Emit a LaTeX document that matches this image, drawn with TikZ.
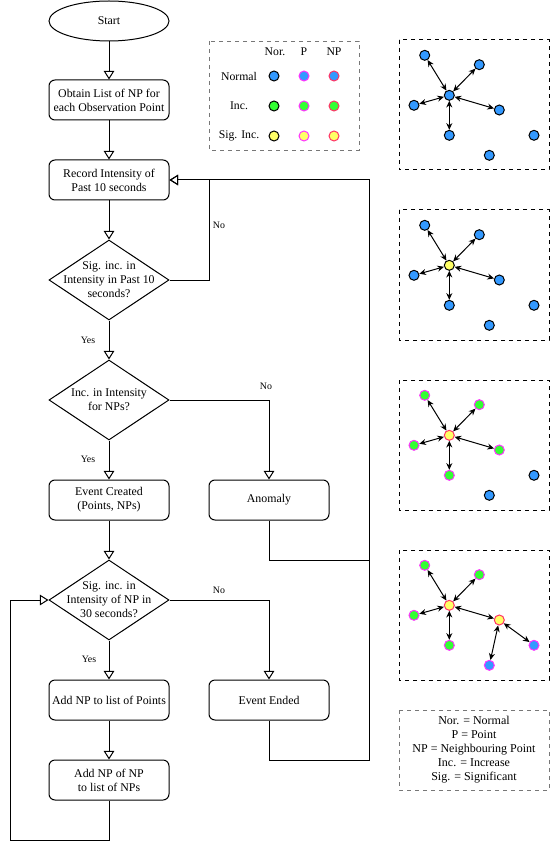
\documentclass[tikz,border=0pt]{standalone}
\usepackage{fontspec}
\setmainfont{Liberation Serif}
\usetikzlibrary{shapes.geometric,arrows.meta}
\definecolor{cblue}{HTML}{3399FF}
\definecolor{cgreen}{HTML}{33FF33}
\definecolor{cyellow}{HTML}{FFFF66}
\definecolor{cmag}{HTML}{FF33FF}
\definecolor{cred}{HTML}{FF3366}
\definecolor{legline}{HTML}{777777}
\tikzset{
  box/.style={draw, rounded corners=4.5pt, minimum width=90pt, minimum height=30pt, align=center, font=\fontsize{8.9}{10.5}\selectfont, inner sep=0pt, line width=0.75pt},
  startnode/.style={draw, ellipse, minimum width=90pt, minimum height=30pt, font=\fontsize{8.9}{10.5}\selectfont, inner sep=0pt, line width=0.75pt},
  dia/.style={draw, diamond, minimum width=90pt, minimum height=60pt, inner sep=0pt, line width=0.75pt},
  diatext/.style={align=center, font=\fontsize{8.9}{10.5}\selectfont, inner sep=0pt},
  flow/.style={line width=0.75pt, -{Triangle[open, width=8pt, length=6.5pt]}},
  plain/.style={line width=0.75pt},
  lab/.style={font=\fontsize{7.4}{9}\selectfont, inner sep=0pt},
  legbox/.style={draw=legline, dashed, line width=0.6pt},
  netbox/.style={draw=black, dashed, line width=0.75pt},
  pt/.style={circle, minimum size=7.5pt, inner sep=0pt, line width=0.75pt},
  nor/.style={pt, draw=black},
  ptp/.style={pt, draw=cmag},
  ptnp/.style={pt, draw=cred},
  legt/.style={font=\fontsize{8.8}{10.5}\selectfont, inner sep=0pt},
  link/.style={line width=0.75pt, {Stealth[length=5pt, width=4.5pt]}-{Stealth[length=5pt, width=4.5pt]}},
}
\begin{document}
\begin{tikzpicture}[x=0.75pt, y=-0.75pt]
\useasboundingbox (0,0) rectangle (550,852);

% ---------- flowchart ----------
\node[startnode] (start) at (109,21) {Start};
\node[box] (b1) at (109,100) {Obtain List of NP for\\each Observation Point};
\node[box] (b2) at (109,180) {Record Intensity of\\Past 10 seconds};
\node[dia] (d1) at (109,280) {};
\node[diatext] (d1t) at (109,280) {Sig. inc. in\\Intensity in Past 10\\seconds?};
\node[dia] (d2) at (109,400) {};
\node[diatext] (d2t) at (109,400) {Inc. in Intensity\\for NPs?};
\node[box] (ec) at (109,500) {Event Created\\(Points, NPs)};
\node[box] (an) at (269,500) {Anomaly};
\node[dia] (d3) at (109,600) {};
\node[diatext] (d3t) at (109,600) {Sig. inc. in\\Intensity of NP in\\30 seconds?};
\node[box] (ap) at (109,700) {Add NP to list of Points};
\node[box] (ee) at (269,700) {Event Ended};
\node[box] (an2) at (109,780) {Add NP of NP\\to list of NPs};

\coordinate (loopR) at (369,180);
\coordinate (anj) at (369,560);
\coordinate (loopL) at (10,600);

\draw[flow] (start) -- (b1);
\draw[flow] (b1) -- (b2);
\draw[flow] (b2) -- (d1);
\draw[flow] (d1.east) -- ++(40,0) |- (b2.east);
\draw[flow] (d1) -- (d2);
\draw[flow] (d2.east) -| (an.north);
\draw[flow] (d2) -- (ec);
\draw[flow] (ec) -- (d3);
\draw[flow] (d3.east) -| (ee.north);
\draw[flow] (d3) -- (ap);
\draw[flow] (ap) -- (an2);
\draw[flow] (an2.south) -- ++(0,40) -| (loopL) -- (d3.west);
\draw[flow] (ee.south) -- ++(0,40) -| (loopR) -- (b2.east);
\draw[plain] (an.south) |- (anj);

\node[lab] (ln1) at (219,225) {No};
\node[lab] (ly1) at (88,340) {Yes};
\node[lab] (ln2) at (266,386) {No};
\node[lab] (ly2) at (88,459) {Yes};
\node[lab] (ln3) at (219,590) {No};
\node[lab] (ly3) at (89,659) {Yes};

% ---------- legend 1 ----------
\draw[legbox] (209,41) rectangle (359,150);
\node[legt] (hn) at (275,52) {Nor.};
\node[legt] (hp) at (304,52) {P};
\node[legt] (hnp) at (334,52) {NP};
\node[legt] (rn) at (239,76) {Normal};
\node[legt] (ri) at (239,106) {Inc.};
\node[legt] (rs) at (239,136) {Sig. Inc.};
\node[nor, fill=cblue] (l11) at (274,76) {};
\node[ptp, fill=cblue] (l12) at (304,76) {};
\node[ptnp, fill=cblue] (l13) at (334,76) {};
\node[nor, fill=cgreen] (l21) at (274,106) {};
\node[ptp, fill=cgreen] (l22) at (304,106) {};
\node[ptnp, fill=cgreen] (l23) at (334,106) {};
\node[nor, fill=cyellow] (l31) at (274,136) {};
\node[ptp, fill=cyellow] (l32) at (304,136) {};
\node[ptnp, fill=cyellow] (l33) at (334,136) {};

% ---------- legend 2 ----------
\draw[legbox] (399,710) rectangle (549,790);
\node[legt, align=center, font=\fontsize{9}{10.5}\selectfont] (abbr) at (474,750) {Nor. = Normal\\P = Point\\NP = Neighbouring Point\\Inc. = Increase\\Sig. = Significant};

% ---------- network panels ----------
% panel 1
\draw[netbox] (399,40) rectangle (549,170);
\node[nor, fill=cblue] (aA) at (424.7,55.3) {};
\node[nor, fill=cblue] (aB) at (479.3,64.7) {};
\node[nor, fill=cblue] (aC) at (449.3,95.3) {};
\node[nor, fill=cblue] (aD) at (414,105.3) {};
\node[nor, fill=cblue] (aE) at (499.3,110) {};
\node[nor, fill=cblue] (aF) at (449.3,135.3) {};
\node[nor, fill=cblue] (aG) at (534,135.3) {};
\node[nor, fill=cblue] (aH) at (489.3,155.3) {};
\foreach \n in {A,B,D,E,F} \draw[link] (aC) -- (a\n);

% panel 2
\draw[netbox] (399,210) rectangle (549,340);
\node[nor, fill=cblue] (bA) at (424.7,225.3) {};
\node[nor, fill=cblue] (bB) at (479.3,234.7) {};
\node[nor, fill=cyellow] (bC) at (449.3,265.3) {};
\node[nor, fill=cblue] (bD) at (414,275.3) {};
\node[nor, fill=cblue] (bE) at (499.3,280) {};
\node[nor, fill=cblue] (bF) at (449.3,305.3) {};
\node[nor, fill=cblue] (bG) at (534,305.3) {};
\node[nor, fill=cblue] (bH) at (489.3,325.3) {};
\foreach \n in {A,B,D,E,F} \draw[link] (bC) -- (b\n);

% panel 3
\draw[netbox] (399,380) rectangle (549,510);
\node[ptp, fill=cgreen] (cA) at (424.7,395.3) {};
\node[ptp, fill=cgreen] (cB) at (479.3,404.7) {};
\node[ptnp, fill=cyellow] (cC) at (449.3,435.3) {};
\node[ptp, fill=cgreen] (cD) at (414,445.3) {};
\node[ptp, fill=cgreen] (cE) at (499.3,450) {};
\node[ptp, fill=cgreen] (cF) at (449.3,475.3) {};
\node[nor, fill=cblue] (cG) at (534,475.3) {};
\node[nor, fill=cblue] (cH) at (489.3,495.3) {};
\foreach \n in {A,B,D,E,F} \draw[link] (cC) -- (c\n);

% panel 4
\draw[netbox] (399,550) rectangle (549,680);
\node[ptp, fill=cgreen] (dA) at (424.7,565.3) {};
\node[ptp, fill=cgreen] (dB) at (479.3,574.7) {};
\node[ptnp, fill=cyellow] (dC) at (449.3,605.3) {};
\node[ptp, fill=cgreen] (dD) at (414,615.3) {};
\node[ptnp, fill=cyellow] (dE) at (499.3,620) {};
\node[ptp, fill=cgreen] (dF) at (449.3,645.3) {};
\node[ptp, fill=cblue] (dG) at (534,645.3) {};
\node[ptp, fill=cblue] (dH) at (489.3,665.3) {};
\foreach \n in {A,B,D,E,F} \draw[link] (dC) -- (d\n);
\draw[link] (dE) -- (dG);
\draw[link] (dE) -- (dH);
\end{tikzpicture}
\end{document}
